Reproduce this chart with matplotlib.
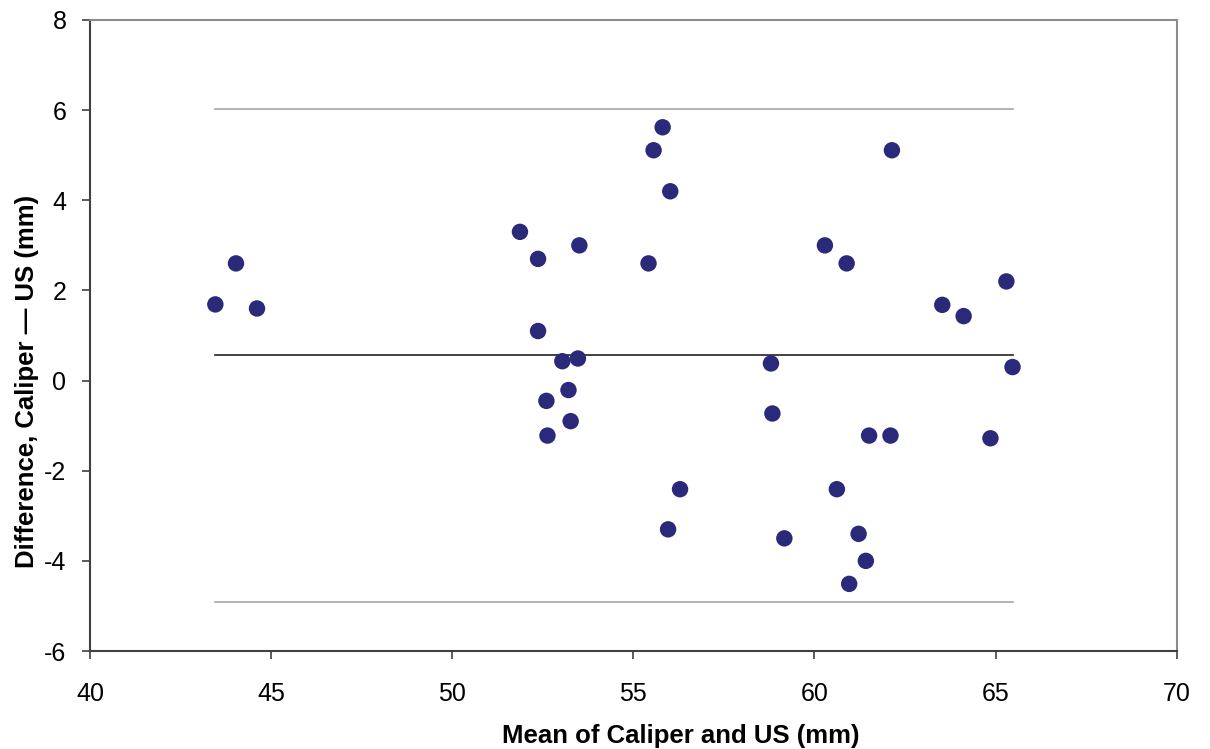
import numpy as np
import matplotlib
matplotlib.use("Agg")
import matplotlib.pyplot as plt

plt.rcParams['font.family'] = ['Liberation Sans', 'DejaVu Sans']
plt.rcParams['axes.unicode_minus'] = False

# Bland-Altman data: mean of the two methods vs difference
mean_vals = [43.46, 44.03, 44.61, 51.87, 52.37, 52.37, 53.04, 53.47, 53.21,
             52.60, 52.63, 53.27, 53.51, 55.42, 55.56, 55.81, 56.02, 55.96,
             56.29, 58.80, 58.84, 59.17, 60.29, 60.89, 60.62, 60.96, 61.22,
             61.42, 61.51, 62.14, 62.10, 63.53, 64.12, 65.30, 65.47, 64.86]
diff_vals = [1.69, 2.60, 1.60, 3.30, 2.70, 1.10, 0.43, 0.49, -0.21,
             -0.45, -1.22, -0.90, 3.00, 2.60, 5.11, 5.62, 4.20, -3.30,
             -2.41, 0.38, -0.73, -3.50, 3.00, 2.60, -2.41, -4.51, -3.40,
             -4.00, -1.22, 5.11, -1.22, 1.68, 1.43, 2.20, 0.30, -1.28]

bias = 0.56
upper_loa = 6.02
lower_loa = -4.91

x_ticks = [40, 45, 50, 55, 60, 65, 70]
y_ticks = [-6, -4, -2, 0, 2, 4, 6, 8]

fig = plt.figure(figsize=(12.1, 7.49), dpi=100)
ax = fig.add_axes([0.0744, 0.1308, 0.898, 0.8425])

x_lo, x_hi = min(mean_vals), max(mean_vals)
ax.plot([x_lo, x_hi], [upper_loa, upper_loa], color='#a6a6a6', lw=1.2, zorder=1)
ax.plot([x_lo, x_hi], [lower_loa, lower_loa], color='#a6a6a6', lw=1.2, zorder=1)
ax.plot([x_lo, x_hi], [bias, bias], color='#222222', lw=1.2, zorder=1)

ax.scatter(mean_vals, diff_vals, s=140, color='#2b2a7a', edgecolors='none', zorder=3)

ax.set_xlim(40, 70)
ax.set_ylim(-6, 8)
ax.set_xticks(x_ticks)
ax.set_yticks(y_ticks)
ax.tick_params(direction='out', length=6, width=1.2, color='#404040',
               labelsize=18, colors='black')
ax.tick_params(axis='x', pad=16)
ax.tick_params(axis='y', pad=11)

for side in ['left', 'bottom']:
    ax.spines[side].set_color('#404040')
    ax.spines[side].set_linewidth(1.5)
for side in ['top', 'right']:
    ax.spines[side].set_color('#8c8c8c')
    ax.spines[side].set_linewidth(1.5)

ax.set_xlabel('Mean of Caliper and US (mm)', fontsize=18.5, fontweight='bold')
ax.set_ylabel('Difference, Caliper \u2014 US (mm)', fontsize=18.5, fontweight='bold')
ax.xaxis.set_label_coords(0.544, -0.115)
ax.yaxis.set_label_coords(-0.047, 0.428)

fig.savefig('out.png', dpi=100)
